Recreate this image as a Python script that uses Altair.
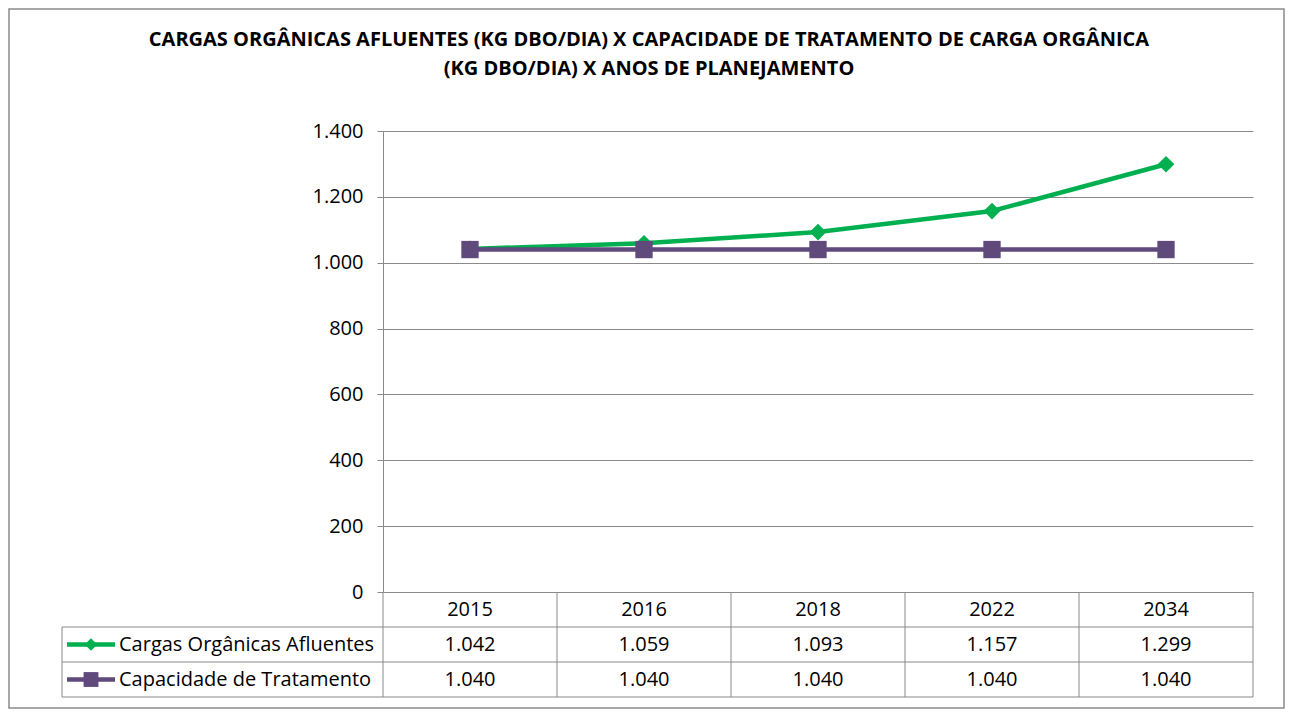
import altair as alt
import pandas as pd

# ---- data ----
years = ["2015", "2016", "2018", "2022", "2034"]
cargas = [1042, 1059, 1093, 1157, 1299]
capacidade = [1040, 1040, 1040, 1040, 1040]
series_names = ["Cargas Orgânicas Afluentes", "Capacidade de Tratamento"]
y_ticks = [0, 200, 400, 600, 800, 1000, 1200, 1400]
title_lines = [
    "CARGAS ORGÂNICAS AFLUENTES (KG DBO/DIA) X CAPACIDADE DE TRATAMENTO DE CARGA ORGÂNICA",
    "(KG DBO/DIA) X ANOS DE PLANEJAMENTO",
]

# ---- style ----
W, H = 870, 461
ROW = 35
GREEN = "#00B050"
PURPLE = "#604A7B"
GRID = "#8A8A8A"
FONT = "Open Sans"
FS = 20


def fmt(v):
    return f"{v:,}".replace(",", ".")


df_c = pd.DataFrame({"ano": years, "valor": cargas})
df_c["label"] = df_c["valor"].map(fmt)
df_p = pd.DataFrame({"ano": years, "valor": capacidade})
df_p["label"] = df_p["valor"].map(fmt)
one = pd.DataFrame({"a": [0]})

xenc = alt.X("ano:O", sort=years, scale=alt.Scale(type="point", padding=0.5), axis=None)
yscale = alt.Scale(domain=[0, 1400], nice=False, zero=True)
yaxis = alt.Axis(
    values=y_ticks,
    labelExpr="replace(format(datum.value, ','), ',', '.')",
    grid=True, gridColor=GRID, gridWidth=1,
    domainColor=GRID, domainWidth=1,
    tickColor=GRID, tickSize=6, tickWidth=1,
    labelFontSize=FS, labelFont=FONT, labelColor="black", labelPadding=14,
    title=None,
)

layers = []

# outer border
layers.append(
    alt.Chart(one).mark_rect(fillOpacity=0, stroke=GRID, strokeWidth=1.5).encode(
        x=alt.value(-374), x2=alt.value(901), y=alt.value(-122), y2=alt.value(577)
    )
)

# title
for i, t in enumerate(title_lines):
    layers.append(
        alt.Chart(one).mark_text(
            text=t, font=FONT, fontSize=20, fontWeight="bold", color="black",
            align="center", baseline="middle",
        ).encode(x=alt.value(266), y=alt.value(-91 + 29 * i))
    )

# lines
green_line = alt.Chart(df_c).mark_line(color=GREEN, strokeWidth=4.5).encode(
    x=xenc, y=alt.Y("valor:Q", scale=yscale, axis=yaxis)
)
green_pts = alt.Chart(df_c).mark_point(
    shape="diamond", filled=True, size=280, color=GREEN, opacity=1
).encode(x=xenc, y=alt.Y("valor:Q", scale=yscale))
purple_line = alt.Chart(df_p).mark_line(color=PURPLE, strokeWidth=4.5).encode(
    x=xenc, y=alt.Y("valor:Q", scale=yscale)
)
purple_pts = alt.Chart(df_p).mark_point(
    shape="square", filled=True, size=300, color=PURPLE, opacity=1
).encode(x=xenc, y=alt.Y("valor:Q", scale=yscale))
layers += [green_line, green_pts, purple_line, purple_pts]

# data table grid
for k in (1, 2, 3):
    layers.append(
        alt.Chart(one).mark_rule(color=GRID, strokeWidth=1).encode(
            x=alt.value(-321), x2=alt.value(W), y=alt.value(H + ROW * k)
        )
    )
for i in range(6):
    layers.append(
        alt.Chart(one).mark_rule(color=GRID, strokeWidth=1).encode(
            x=alt.value(i * W / 5), y=alt.value(H), y2=alt.value(H + 3 * ROW)
        )
    )
layers.append(
    alt.Chart(one).mark_rule(color=GRID, strokeWidth=1).encode(
        x=alt.value(-321), y=alt.value(H + ROW), y2=alt.value(H + 3 * ROW)
    )
)

# table header (years)
layers.append(
    alt.Chart(pd.DataFrame({"ano": years})).mark_text(
        font=FONT, fontSize=FS, color="black", baseline="middle"
    ).encode(x=xenc, y=alt.value(H + ROW * 0.5), text="ano:N")
)
# table values
for k, d in ((1, df_c), (2, df_p)):
    layers.append(
        alt.Chart(d).mark_text(
            font=FONT, fontSize=FS, color="black", baseline="middle"
        ).encode(x=xenc, y=alt.value(H + ROW * (k + 0.5)), text="label:N")
    )

# legend keys inside table
for k, (name, col, shape, sz) in enumerate(
    ((series_names[0], GREEN, "diamond", 160), (series_names[1], PURPLE, "square", 220)), start=1
):
    yy = H + ROW * (k + 0.5)
    layers.append(
        alt.Chart(one).mark_rule(color=col, strokeWidth=4.5).encode(
            x=alt.value(-316), x2=alt.value(-268), y=alt.value(yy)
        )
    )
    layers.append(
        alt.Chart(one).mark_point(shape=shape, filled=True, size=sz, color=col, opacity=1).encode(
            x=alt.value(-292), y=alt.value(yy)
        )
    )
    layers.append(
        alt.Chart(one).mark_text(
            text=name, font=FONT, fontSize=FS, color="black", align="left", baseline="middle"
        ).encode(x=alt.value(-264), y=alt.value(yy))
    )

chart = (
    alt.layer(*layers)
    .properties(
        width=W,
        height=H,
        autosize=alt.AutoSizeParams(type="none"),
        padding={"left": 375, "top": 123, "right": 32, "bottom": 118},
        background="white",
    )
    .configure_view(stroke=None)
)

chart.save("out.html", embed_options={"renderer": "svg", "actions": False})
